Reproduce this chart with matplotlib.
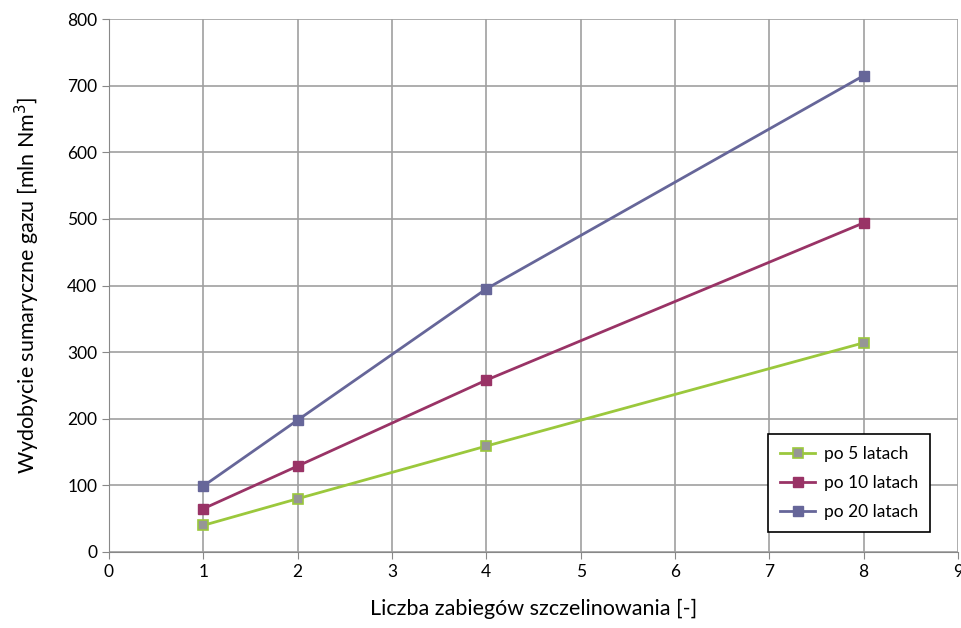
import matplotlib
matplotlib.use("Agg")
import matplotlib.pyplot as plt

x = [1, 2, 4, 8]
s5 = [40, 80, 159, 314]
s10 = [65, 129, 258, 494]
s20 = [99, 198, 395, 715]
labels = ["po 5 latach", "po 10 latach", "po 20 latach"]
xticks = list(range(0, 10))
yticks = list(range(0, 801, 100))

plt.rcParams['font.family'] = ['Lato', 'DejaVu Sans']

fig = plt.figure(figsize=(9.62, 6.28), dpi=100)
ax = fig.add_axes([109/962, 1-552/628, (958-109)/962, (552-19)/628])

ax.plot(x, s5, color='#9BC83C', lw=2, marker='s', ms=7, mfc='#969696', mec='#9BC83C', mew=1.2, label=labels[0], zorder=3)
ax.plot(x, s10, color='#993366', lw=2, marker='s', ms=7, mfc='#993366', mec='#993366', label=labels[1], zorder=3)
ax.plot(x, s20, color='#666699', lw=2, marker='s', ms=7, mfc='#666699', mec='#666699', label=labels[2], zorder=3)

ax.set_xlim(0, 9)
ax.set_ylim(0, 800)
ax.set_xticks(xticks)
ax.set_yticks(yticks)
ax.grid(True, color='#a0a0a0', lw=1.2)
ax.set_axisbelow(True)
for s in ['top', 'right']:
    ax.spines[s].set_visible(False)
for s in ['left', 'bottom']:
    ax.spines[s].set_color('#888888')
ax.tick_params(axis='both', labelsize=12.5, color='#888888', length=5, direction='out')
ax.set_xlabel("Liczba zabiegów szczelinowania [-]", fontsize=15.5, labelpad=14)
ax.set_ylabel("Wydobycie sumaryczne gazu [mln Nm$^3$]", fontsize=15.5, labelpad=18)

leg = ax.legend(loc='lower right', bbox_to_anchor=(930/962, 1-532/628), bbox_transform=fig.transFigure,
                borderaxespad=0, fontsize=12.5, frameon=True, fancybox=False, edgecolor='black', framealpha=1,
                handlelength=2.0, labelspacing=0.75, borderpad=0.7, handletextpad=0.5)
leg.get_frame().set_linewidth(1.2)

fig.savefig("out.png", dpi=100)
